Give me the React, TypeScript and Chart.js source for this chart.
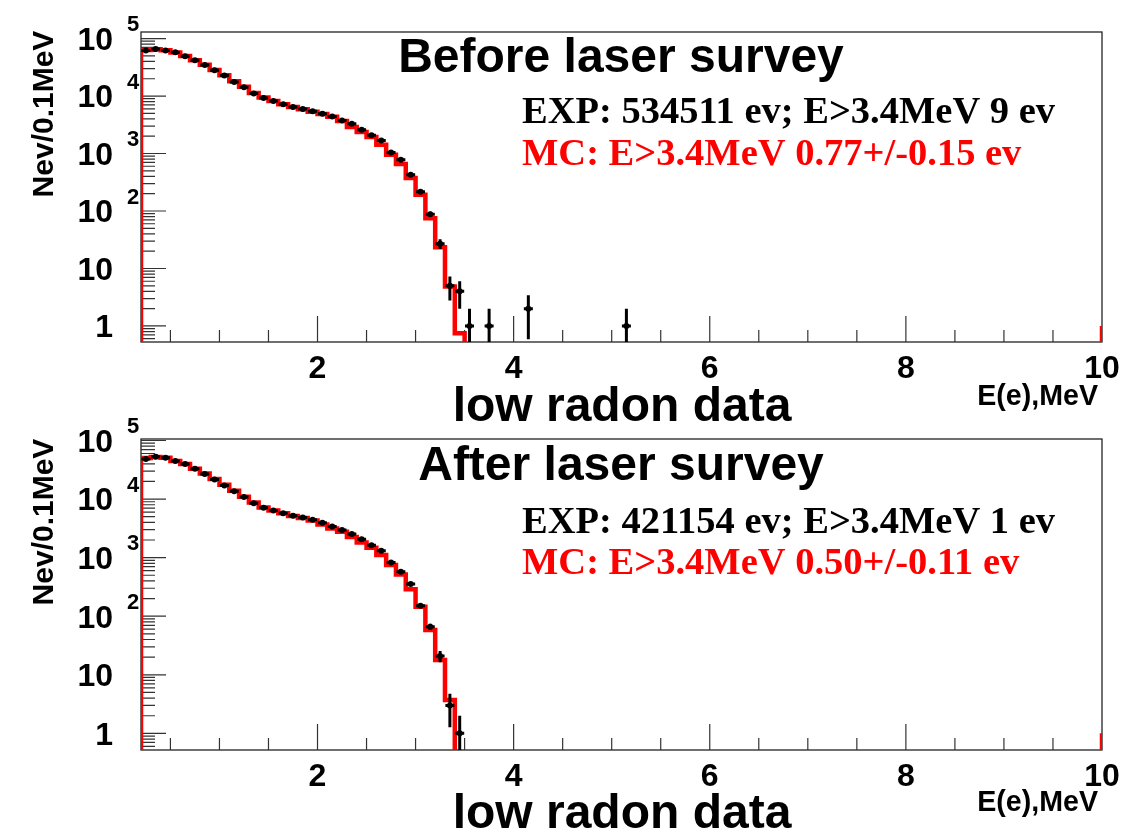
import React, { useEffect, useRef } from 'react';
import { Chart, registerables } from 'chart.js';

Chart.register(...registerables);

// ---------- data ----------
const BIN_START = 0.2; // MeV, left edge of first bin
const BIN_WIDTH = 0.1; // MeV
const X_MIN = 0.2;
const X_MAX = 10;
const xTickValues = [2, 4, 6, 8, 10];
const xMinorStep = 0.5;
const yDecadeExponents = [0, 1, 2, 3, 4, 5];

// experimental counts per 0.1 MeV bin (bins start at 0.2 MeV)
const expBefore = [
  62000, 65500, 62000, 57700, 49200, 41900, 34800, 28000, 22700, 17600,
  14200, 11100, 9270, 8220, 7180, 6460, 5960, 5410, 4930, 4400,
  3770, 3300, 2600, 2070, 1690, 1045, 780, 428, 216, 88,
  27, 5, 4, 1, 0, 1, 0, 0, 0, 2,
  0, 0, 0, 0, 0, 0, 0, 0, 0, 1,
];
const mcBefore = [
  63500, 65000, 62500, 57000, 49500, 42000, 35000, 28500, 23000, 18000,
  14500, 11300, 9400, 8200, 7200, 6450, 5900, 5350, 4850, 4350,
  3680, 2890, 2370, 1940, 1420, 953, 656, 374, 191, 75,
  23.5, 4.84, 0.745,
];
const expAfter = [
  48500, 52600, 50800, 44800, 39600, 32900, 26900, 21600, 17100, 13600,
  10800, 8510, 7080, 6380, 5740, 5170, 4850, 4420, 3950, 3390,
  2950, 2520, 2070, 1635, 1305, 828, 573, 353, 151, 66,
  21, 3, 1,
];
const mcAfter = [
  50000, 52000, 50500, 44500, 39500, 33000, 27200, 22000, 17500, 13800,
  11000, 8700, 7200, 6400, 5750, 5150, 4750, 4300, 3680, 3150,
  2760, 2260, 1815, 1470, 1105, 745, 517, 290, 145, 58,
  17.8, 3.7, 0.48,
];
const mcRightEdgeValue = 1; // value of MC line drawn at the x = 10 edge

const SANS = '"Liberation Sans", Arial, Helvetica, sans-serif';
const SERIF = '"Liberation Serif", "Times New Roman", serif';
const RED = '#ff0000';
const FLOOR = 1e-3;

type PadCfg = {
  exp: number[];
  mc: number[];
  yMin: number;
  yMax: number;
  height: number;
  bottomPad: number;
  title: string;
  expText: string;
  mcText: string;
  t: { title: number; exp: number; mc: number; yTitle: number; xTitle: number; unit: number };
};

function mcPoints(vals: number[]) {
  const pts: { x: number; y: number }[] = [{ x: BIN_START, y: FLOOR }];
  vals.forEach((v, i) => pts.push({ x: BIN_START + BIN_WIDTH * i, y: v }));
  pts.push({ x: BIN_START + BIN_WIDTH * vals.length, y: FLOOR });
  pts.push({ x: X_MAX, y: mcRightEdgeValue });
  return pts;
}

function expPoints(vals: number[]) {
  const pts: { x: number; y: number }[] = [];
  vals.forEach((v, i) => {
    if (v > 0) pts.push({ x: BIN_START + BIN_WIDTH * (i + 0.5), y: v });
  });
  return pts;
}

function makePlugin(cfg: PadCfg) {
  return {
    id: 'rootStyle',
    beforeDatasetsDraw(chart: any) {
      const { ctx, chartArea: a, scales } = chart;
      const xs = scales.x;
      const ys = scales.y;
      ctx.save();
      ctx.strokeStyle = '#222';
      ctx.lineWidth = 1.3;
      ctx.strokeRect(a.left, a.top, a.right - a.left, a.bottom - a.top);
      ctx.lineWidth = 1.2;
      ctx.strokeStyle = '#333';
      ctx.beginPath();
      for (let k = 1; k * xMinorStep < X_MAX; k++) {
        const v = k * xMinorStep;
        if (v <= X_MIN) continue;
        const len = xTickValues.includes(v) ? 26 : 12;
        const px = xs.getPixelForValue(v);
        ctx.moveTo(px, a.bottom);
        ctx.lineTo(px, a.bottom - len);
      }
      for (let d = -1; d <= 5; d++) {
        for (let m = 1; m <= 9; m++) {
          const v = m * Math.pow(10, d);
          if (v < cfg.yMin || v > cfg.yMax) continue;
          const len = m === 1 ? 25 : 14;
          const py = ys.getPixelForValue(v);
          ctx.moveTo(a.left, py);
          ctx.lineTo(a.left + len, py);
        }
      }
      ctx.stroke();
      ctx.restore();
    },
    afterDatasetsDraw(chart: any) {
      const { ctx, chartArea: a, scales } = chart;
      const xs = scales.x;
      const ys = scales.y;
      ctx.save();
      ctx.beginPath();
      ctx.rect(a.left, a.top, a.right - a.left, a.bottom - a.top);
      ctx.clip();
      ctx.strokeStyle = '#000';
      ctx.lineWidth = 3;
      cfg.exp.forEach((n, i) => {
        if (n <= 0) return;
        const xc = BIN_START + BIN_WIDTH * (i + 0.5);
        const px = xs.getPixelForValue(xc);
        const err = Math.sqrt(n);
        const pyHi = ys.getPixelForValue(n + err);
        const pyLo = n - err > 0 ? ys.getPixelForValue(n - err) : a.bottom + 2;
        const py = ys.getPixelForValue(n);
        ctx.beginPath();
        ctx.moveTo(px, pyHi);
        ctx.lineTo(px, pyLo);
        ctx.moveTo(px - 4.5, py);
        ctx.lineTo(px + 4.5, py);
        ctx.stroke();
      });
      ctx.restore();
    },
    afterDraw(chart: any) {
      const { ctx, chartArea: a, scales } = chart;
      const xs = scales.x;
      const ys = scales.y;
      ctx.save();
      ctx.fillStyle = '#000';
      // x tick labels
      ctx.font = `bold 32px ${SANS}`;
      ctx.textAlign = 'center';
      ctx.textBaseline = 'alphabetic';
      xTickValues.forEach((v) => {
        ctx.fillText(String(v), xs.getPixelForValue(v), a.bottom + 36);
      });
      // y tick labels (ROOT style 10^n)
      yDecadeExponents.forEach((e) => {
        const v = Math.pow(10, e);
        if (v > cfg.yMax * 1.0001 || v < cfg.yMin) return;
        const py = ys.getPixelForValue(v);
        ctx.font = `bold 32px ${SANS}`;
        ctx.textAlign = 'right';
        ctx.textBaseline = 'middle';
        ctx.fillText(e === 0 ? '1' : '10', a.left - 28, py + 2.5);
        if (e >= 2) {
          ctx.font = `bold 22px ${SANS}`;
          ctx.textAlign = 'left';
          ctx.fillText(String(e), a.left - 14, py - 13.5);
        }
      });
      // y title
      ctx.save();
      ctx.translate(53, cfg.t.yTitle);
      ctx.rotate(-Math.PI / 2);
      ctx.font = `bold 30px ${SANS}`;
      ctx.textAlign = 'center';
      ctx.textBaseline = 'alphabetic';
      ctx.fillText('Nev/0.1MeV', 0, 0);
      ctx.restore();
      // title
      ctx.textBaseline = 'alphabetic';
      ctx.textAlign = 'center';
      ctx.font = `bold 48px ${SANS}`;
      ctx.fillText(cfg.title, 621, cfg.t.title);
      // x title
      ctx.font = `bold 48px ${SANS}`;
      ctx.fillText('low radon data', 622, cfg.t.xTitle);
      ctx.textAlign = 'right';
      ctx.font = `bold 28.6px ${SANS}`;
      ctx.fillText('E(e),MeV', 1098, cfg.t.unit);
      // statistics
      ctx.textAlign = 'left';
      ctx.font = `bold 38.5px ${SERIF}`;
      ctx.fillText(cfg.expText, 522, cfg.t.exp);
      ctx.fillStyle = RED;
      ctx.fillText(cfg.mcText, 522, cfg.t.mc);
      ctx.restore();
    },
  };
}

function Pad({ cfg, top }: { cfg: PadCfg; top: number }) {
  const ref = useRef<HTMLCanvasElement | null>(null);
  useEffect(() => {
    if (!ref.current) return;
    const chart = new Chart(ref.current, {
      type: 'line',
      data: {
        datasets: [
          {
            label: 'EXP',
            data: expPoints(cfg.exp),
            showLine: false,
            pointRadius: 3,
            pointBackgroundColor: '#000',
            pointBorderColor: '#000',
            pointBorderWidth: 0,
          },
          {
            label: 'MC',
            data: mcPoints(cfg.mc),
            stepped: true,
            borderColor: RED,
            borderWidth: 4.5,
            pointRadius: 0,
            fill: false,
            clip: 0,
          } as any,
        ],
      },
      options: {
        responsive: false,
        animation: false,
        events: [],
        layout: { padding: { left: 141, top: 32, right: 24, bottom: cfg.bottomPad } },
        plugins: { legend: { display: false }, tooltip: { enabled: false }, title: { display: false } },
        scales: {
          x: { type: 'linear', min: X_MIN, max: X_MAX, display: false },
          y: { type: 'logarithmic', min: cfg.yMin, max: cfg.yMax, display: false },
        },
      } as any,
      plugins: [makePlugin(cfg)],
    });
    return () => chart.destroy();
  }, [cfg]);
  return (
    <canvas
      ref={ref}
      width={1126}
      height={cfg.height}
      style={{ position: 'absolute', left: 0, top, width: 1126, height: cfg.height, display: 'block' }}
    />
  );
}

const padBefore: PadCfg = {
  exp: expBefore,
  mc: mcBefore,
  yMin: 0.526,
  yMax: 1.3e5,
  height: 432,
  bottomPad: 90,
  title: 'Before laser survey',
  expText: 'EXP: 534511 ev; E>3.4MeV 9 ev',
  mcText: 'MC: E>3.4MeV 0.77+/-0.15 ev',
  t: { title: 72, exp: 123, mc: 165, yTitle: 114, xTitle: 421, unit: 405 },
};

const padAfter: PadCfg = {
  exp: expAfter,
  mc: mcAfter,
  yMin: 0.52,
  yMax: 1.06e5,
  height: 426,
  bottomPad: 83,
  title: 'After laser survey',
  expText: 'EXP: 421154 ev; E>3.4MeV 1 ev',
  mcText: 'MC: E>3.4MeV 0.50+/-0.11 ev',
  t: { title: 73, exp: 126, mc: 167, yTitle: 115, xTitle: 421, unit: 404 },
};

export default function App() {
  return (
    <div style={{ position: 'absolute', left: 0, top: 0, width: 1126, height: 833, background: '#fff', overflow: 'hidden' }}>
      <Pad cfg={padBefore} top={0} />
      <Pad cfg={padAfter} top={407} />
    </div>
  );
}
